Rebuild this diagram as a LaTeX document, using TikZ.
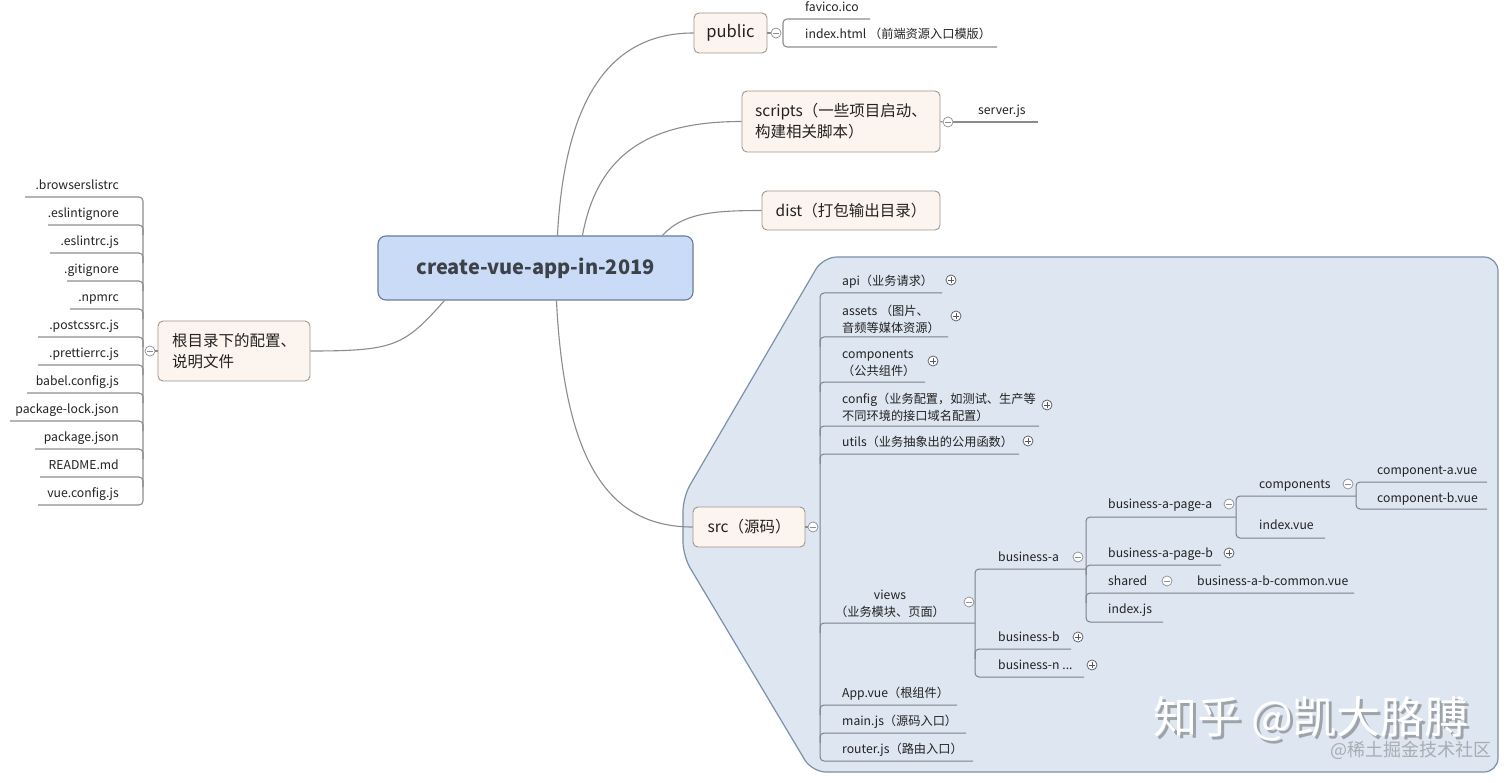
\documentclass[tikz,border=0pt]{standalone}
\usepackage{fontspec}
\setmainfont{Noto Sans CJK SC}
\usetikzlibrary{calc}
\definecolor{txt}{HTML}{222222}
\definecolor{lgray}{HTML}{8C8C8C}
\definecolor{tgray}{HTML}{7C828A}
\definecolor{tfill}{HTML}{FCF4EE}
\definecolor{tborder}{HTML}{A0968E}
\definecolor{cfill}{HTML}{CADBF7}
\definecolor{cborder}{HTML}{6B7B99}
\definecolor{ctext}{HTML}{3D4248}
\definecolor{rfill}{HTML}{DDE6F1}
\definecolor{rborder}{HTML}{7D90A8}
\definecolor{cgray}{HTML}{8A8F96}
\definecolor{pgray}{HTML}{55595F}
\definecolor{wmshadow}{HTML}{9EA3A8}
\definecolor{wmgray}{HTML}{A9ADB2}
\begin{document}
\begin{tikzpicture}[x=1pt,y=-1pt,
  conn/.style={draw=lgray, line width=1.1pt},
  tline/.style={draw=tgray, line width=1pt, rounded corners=4pt},
  topic/.style={draw=tborder, fill=tfill, rounded corners=5pt, line width=0.9pt, inner sep=0pt, text=txt, font=\fontsize{15.5}{21}\selectfont},
  lbl/.style={inner sep=0pt, text=txt, font=\fontsize{12.2}{17}\selectfont, text height=9pt, text depth=3pt, yshift=-1.5pt},
  lblm/.style={inner sep=0pt, text=txt, font=\fontsize{12.2}{17}\selectfont, yshift=-1pt},
  minus/.style={circle, draw=cgray, fill=white, line width=0.7pt, minimum size=10pt, inner sep=0pt,
    path picture={\draw[cgray,line width=0.8pt] ([xshift=-2.6pt]path picture bounding box.center) -- ([xshift=2.6pt]path picture bounding box.center);}},
  plus/.style={circle, draw=pgray, fill=white, line width=0.7pt, minimum size=10pt, inner sep=0pt,
    path picture={\draw[pgray,line width=0.8pt] ([xshift=-2.6pt]path picture bounding box.center) -- ([xshift=2.6pt]path picture bounding box.center);
                  \draw[pgray,line width=0.8pt] ([yshift=-2.6pt]path picture bounding box.center) -- ([yshift=2.6pt]path picture bounding box.center);}}
]
\useasboundingbox (0,0) rectangle (1512,783);
\fill[white] (0,0) rectangle (1512,783);

% src region
\draw[fill=rfill, draw=rborder, line width=1.2pt, rounded corners=14pt]
  (823,257) -- (1498,257) -- (1498,772) -- (812,772) -- (683,556) -- (683,497) -- cycle;

% central topic
\node[draw=cborder, fill=cfill, rounded corners=8pt, line width=1.1pt, minimum width=315pt, minimum height=64pt,
      text=ctext, font=\fontsize{20}{24}\selectfont\bfseries] (root) at (535.5,268) {create-vue-app-in-2019};

% main topics
\node[topic, minimum width=73pt, minimum height=40pt, font=\fontsize{16.5}{21}\selectfont] (public) at (730.5,33) {public};
\node[topic, minimum width=198pt, minimum height=61pt, align=left] (scripts) at (841,121.5) {scripts（一些项目启动、\\构建相关脚本）};
\node[topic, minimum width=178pt, minimum height=39pt] (dist) at (851,210.5) {dist（打包输出目录）};
\node[topic, minimum width=112pt, minimum height=40pt] (src) at (749,527) {src（源码）};
\node[topic, minimum width=152pt, minimum height=60pt, align=left] (cfg) at (234,351) {根目录下的配置、\\说明文件};

% connectors from root
\draw[conn] ([xshift=180pt]root.north west) .. controls +(8,-150) and +(-75,0) .. (public.west);
\draw[conn] ([xshift=205pt]root.north west) .. controls +(15,-80) and +(-95,0) .. (scripts.west);
\draw[conn] ([xshift=285pt]root.north west) .. controls +(20,-22) and +(-50,0) .. (dist.west);
\draw[conn] ([xshift=179pt]root.south west) .. controls +(8,160) and +(-85,0) .. (src.west);
\draw[conn] ([xshift=67pt]root.south west) .. controls +(-40,45) and +(85,0) .. (cfg.east);

% ---- public
\node[minus] (cpub) at (776,33) {};
\draw[conn] (public.east) -- (cpub.west);
\draw[conn, rounded corners=4pt] (870,19) -- (783,19) -- (783,47) -- (997,47);
\node[lbl, anchor=west] (favico) at (805,7) {favico.ico};
\node[lbl, anchor=west] (indexhtml) at (805,34) {index.html （前端资源入口模版）};

% ---- scripts
\node[minus] (cscr) at (948,122) {};
\draw[conn] (scripts.east) -- (cscr.west);
\coordinate (serverend) at (1038,122);
\draw[conn] (cscr.east) -- (serverend);
\node[lbl, anchor=west] (server) at (978,110) {server.js};

% ---- root config files
\node[minus] (ccfg) at (150,351) {};
\draw[conn] (cfg.west) -- (ccfg.east);
\draw[conn, rounded corners=4pt] (25,197) -- (143,197) -- (143,505) -- (38,505);
\foreach \y/\l in {225/48, 253/50, 281/67, 309/70, 337/38, 365/38, 393/27, 421/10, 449/35, 477/40}{
  \draw[conn, rounded corners=4pt] (\l,\y) -- (143,\y) -- (143,\y+10);
}
\foreach \n/\y/\t in {f1/185/.browserslistrc, f2/213/.eslintignore, f3/241/.eslintrc.js, f4/269/.gitignore, f5/297/.npmrc,
  f6/325/.postcssrc.js, f7/353/.prettierrc.js, f8/381/babel.config.js, f9/409/package-lock.json, f10/437/package.json,
  f11/465/README.md, f12/493/vue.config.js}{
  \node[lbl, anchor=east] (\n) at (119,\y) {\t};
}

% ---- src children
\node[minus] (csrc) at (813,527) {};
\draw[conn] (src.east) -- (csrc.west);
\draw[tline] (942,293) -- (820,293) -- (820,761) -- (973,761);
\foreach \y/\r in {337/948, 382/925, 426/1039, 454/1019, 623/975, 705/957, 733/966}{
  \draw[tline] (\r,\y) -- (820,\y) -- (820,\y+10);
}
\node[lbl, anchor=west] (api) at (842,281) {api（业务请求）};
\node[lblm, anchor=west, align=left] (assets) at (842,318) {assets （图片、\\音频等媒体资源）};
\node[lblm, anchor=west, align=left] (comps) at (842,362) {components\\（公共组件）};
\node[lblm, anchor=west, align=left] (config) at (842,406.5) {config（业务配置，如测试、生产等\\不同环境的接口域名配置）};
\node[lbl, anchor=west] (utils) at (842,442) {utils（业务抽象出的公用函数）};
\node[lblm, align=center] (views) at (890,603) {views\\（业务模块、页面）};
\node[lbl, anchor=west] (appvue) at (842,693) {App.vue（根组件）};
\node[lbl, anchor=west] (mainjs) at (842,721) {main.js（源码入口）};
\node[lbl, anchor=west] (routerjs) at (842,749) {router.js（路由入口）};
\node[plus] (papi) at (951,280) {};
\node[plus] (passets) at (956,316) {};
\node[plus] (pcomps) at (933,361) {};
\node[plus] (pconfig) at (1047,405) {};
\node[plus] (putils) at (1028,441) {};
\node[minus] (cviews) at (969,602) {};

% ---- views subtree
\draw[tline] (1086,569) -- (975,569) -- (975,677) -- (1084,677);
\draw[tline] (1071,649) -- (975,649) -- (975,659);
\node[lbl, anchor=west] (busa) at (998,557) {business-a};
\node[lbl, anchor=west] (busb) at (998,637) {business-b};
\node[lbl, anchor=west] (busn) at (998,665) {business-n ...};
\node[minus] (cbusa) at (1078,557) {};
\node[plus] (pbusb) at (1078,637) {};
\node[plus] (pbusn) at (1092,665) {};

% ---- business-a subtree
\draw[tline] (1236,517) -- (1086,517) -- (1086,622) -- (1163,622);
\draw[tline] (1221,565) -- (1086,565) -- (1086,575);
\draw[tline] (1354,593) -- (1086,593) -- (1086,603);
\node[lbl, anchor=west] (pagea) at (1108,504) {business-a-page-a};
\node[lbl, anchor=west] (pageb) at (1108,553) {business-a-page-b};
\node[lbl, anchor=west] (shared) at (1108,581) {shared};
\node[lbl, anchor=west] (common) at (1197,581) {business-a-b-common.vue};
\node[lbl, anchor=west] (indexjs) at (1108,609) {index.js};
\node[minus] (cpagea) at (1229,504) {};
\node[plus] (ppageb) at (1229,553) {};
\node[minus] (cshared) at (1167,581) {};

% ---- page-a subtree
\draw[tline] (1356,496) -- (1236,496) -- (1236,538) -- (1325,538);
\node[lbl, anchor=west] (pcomp) at (1259,484) {components};
\node[lbl, anchor=west] (indexvue) at (1259,525) {index.vue};
\node[minus] (cpcomp) at (1348,484) {};

% ---- components subtree
\draw[tline] (1487,482) -- (1356,482) -- (1356,509) -- (1487,509);
\node[lbl, anchor=west] (compa) at (1377,470) {component-a.vue};
\node[lbl, anchor=west] (compb) at (1377,498) {component-b.vue};

% ---- watermark
\node[text=wmshadow, font=\fontsize{44}{48}\selectfont, inner sep=0pt] at (1314,722) {知乎 @凯大胳膊};
\node[text=white, font=\fontsize{44}{48}\selectfont, inner sep=0pt] (wm) at (1311,719) {知乎 @凯大胳膊};
\node[text=wmgray, font=\fontsize{18}{20}\selectfont, inner sep=0pt] (wm2) at (1411,750) {@稀土掘金技术社区};
\end{tikzpicture}
\end{document}
